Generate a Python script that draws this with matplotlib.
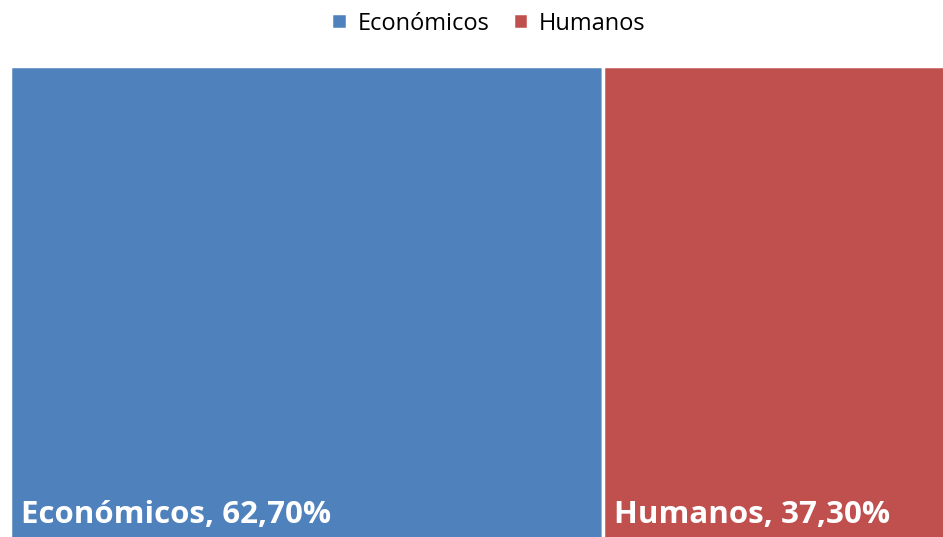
import matplotlib.pyplot as plt
import numpy as np

labels = ['Económicos', 'Humanos']
values = [62.70, 37.30]
colors = ['#4F81BD', '#C0504D']

fig = plt.figure(figsize=(9.43, 5.37), dpi=100)
# treemap runs past the right and bottom edges of the picture
ax = fig.add_axes([10 / 943, -15 / 537, 946 / 943, (537 - 66 + 15) / 537])

total = sum(values)
widths = np.array(values) / total
lefts = np.concatenate([[0], np.cumsum(widths)[:-1]])

for lab, v, x0, w, c in zip(labels, values, lefts, widths, colors):
    ax.bar(x0, 1, width=w, bottom=0, align='edge', color=c,
           edgecolor='white', linewidth=2.5, label=lab)
    txt = f'{lab}, {v:.2f}%'.replace('.', ',')
    ax.annotate(txt, (x0, 0), xytext=(8, 16), textcoords='offset points',
                color='white', fontsize=22.5, fontweight='bold',
                family='Open Sans', ha='left', va='bottom')

ax.set_xlim(0, 1)
ax.set_ylim(0, 1)
ax.axis('off')

fig.legend(loc='upper center', bbox_to_anchor=(0.518, 1.018), ncol=2,
           frameon=False, handlelength=0.65, handleheight=0.65,
           handletextpad=0.45, columnspacing=1.0,
           prop={'family': 'Open Sans', 'size': 17})

fig.savefig('out.png', dpi=100)
